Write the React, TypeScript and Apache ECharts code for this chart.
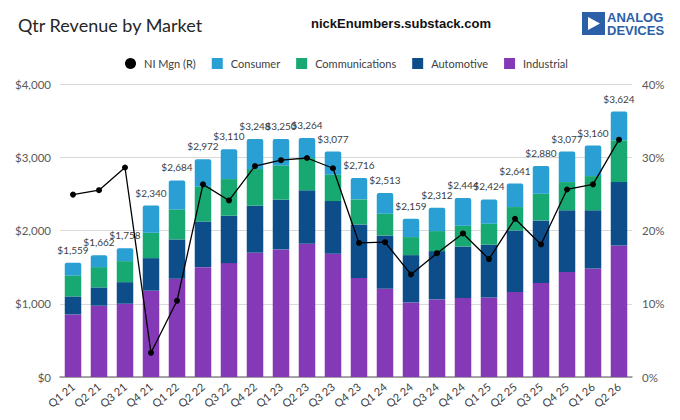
import React, { useEffect, useRef } from "react";
import * as echarts from "echarts";

const quarters = [
  "Q1 21", "Q2 21", "Q3 21", "Q4 21", "Q1 22", "Q2 22", "Q3 22", "Q4 22",
  "Q1 23", "Q2 23", "Q3 23", "Q4 23", "Q1 24", "Q2 24", "Q3 24", "Q4 24",
  "Q1 25", "Q2 25", "Q3 25", "Q4 25", "Q1 26", "Q2 26",
];

// revenue by market, $M
const industrial = [854, 973, 1000, 1178, 1341, 1500, 1555, 1697, 1742, 1820, 1683, 1350, 1205, 1018, 1059, 1077, 1086, 1159, 1282, 1432, 1482, 1796];
const automotive = [246, 250, 295, 445, 537, 624, 647, 642, 679, 728, 719, 733, 728, 646, 660, 706, 720, 842, 856, 843, 793, 865];
const communications = [287, 277, 287, 347, 410, 478, 500, 500, 468, 441, 360, 342, 297, 246, 273, 283, 287, 319, 365, 386, 468, 570];
const consumer = [172, 162, 176, 370, 396, 370, 408, 409, 361, 275, 315, 291, 283, 249, 320, 378, 331, 321, 377, 416, 417, 393];
const totals = [1559, 1662, 1758, 2340, 2684, 2972, 3110, 3248, 3250, 3264, 3077, 2716, 2513, 2159, 2312, 2444, 2424, 2641, 2880, 3077, 3160, 3624];

// net income margin, %
const niMargin = [24.9, 25.5, 28.6, 3.3, 10.4, 26.3, 24.1, 28.8, 29.6, 29.9, 28.5, 18.3, 18.4, 14.0, 16.9, 19.6, 16.1, 21.6, 18.1, 25.6, 26.3, 32.4];

const FONT = "Lato, 'Open Sans', sans-serif";
const money = (v: number) => "$" + v.toString().replace(/\B(?=(\d{3})+(?!\d))/g, ",");

const App: React.FC = () => {
  const chartRef = useRef<HTMLDivElement>(null);

  useEffect(() => {
    const chart = echarts.init(chartRef.current!, undefined, { renderer: "svg" });

    const barSeries = (name: string, data: number[], color: string, top = false): any => ({
      name,
      type: "bar",
      stack: "rev",
      barWidth: 16.5,
      yAxisIndex: 0,
      itemStyle: { color, borderRadius: top ? [2, 2, 0, 0] : 0 },
      label: top
        ? {
            show: true,
            position: "top",
            distance: 8,
            fontSize: 10,
            fontFamily: FONT,
            color: "#404040",
            formatter: (p: any) => money(totals[p.dataIndex]),
          }
        : { show: false },
      data,
    });

    chart.setOption({
      animation: false,
      backgroundColor: "#ffffff",
      textStyle: { fontFamily: FONT },
      grid: { left: 60, right: 48, top: 84, bottom: 43 },
      legend: {
        left: 120,
        top: 53,
        itemWidth: 11,
        itemHeight: 11,
        itemGap: 16,
        textStyle: { fontSize: 11, color: "#404040", fontFamily: FONT, padding: [0, 0, 0, 3] },
        data: [
          { name: "NI Mgn (R)", icon: "circle", itemStyle: { color: "#000000" } },
          { name: "Consumer", icon: "rect" },
          { name: "Communications", icon: "rect" },
          { name: "Automotive", icon: "rect" },
          { name: "Industrial", icon: "rect" },
        ],
      },
      graphic: [
        {
          type: "text",
          left: 18,
          top: 16,
          style: { text: "Qtr Revenue by Market", font: `18px ${FONT}`, fill: "#262626" },
        },
        {
          type: "text",
          x: 401,
          y: 23,
          style: {
            text: "nickEnumbers.substack.com",
            font: "bold 13px 'Liberation Sans', Arial, sans-serif",
            fill: "#111111",
            align: "center",
            verticalAlign: "middle",
          },
        },
        { type: "rect", shape: { x: 582, y: 12, width: 23, height: 23 }, style: { fill: "#2b5fa8" } },
        {
          type: "polygon",
          shape: { points: [[588, 17], [588, 30], [600, 23.5]] },
          style: { fill: "#ffffff" },
        },
        {
          type: "text",
          x: 607,
          y: 23.5,
          style: {
            text: "ANALOG\nDEVICES",
            font: "bold 13px 'Liberation Sans', Arial, sans-serif",
            lineHeight: 13,
            fill: "#2b5fa8",
            verticalAlign: "middle",
          },
        },
      ],
      xAxis: {
        type: "category",
        data: quarters,
        axisTick: { show: false },
        axisLine: { lineStyle: { color: "#8c8c8c", width: 1.5 } },
        axisLabel: { rotate: 40, fontSize: 11, color: "#404040", margin: 8, interval: 0 },
      },
      yAxis: [
        {
          type: "value",
          min: 0,
          max: 4000,
          interval: 1000,
          axisLabel: { formatter: (v: number) => money(v), fontSize: 11.5, color: "#595959", margin: 9 },
          splitLine: { lineStyle: { color: "#d9d9d9" } },
          axisLine: { show: false },
        },
        {
          type: "value",
          min: 0,
          max: 40,
          interval: 10,
          position: "right",
          axisLabel: { formatter: "{value}%", fontSize: 11.5, color: "#595959", margin: 10 },
          splitLine: { show: false },
          axisLine: { show: false },
        },
      ],
      series: [
        barSeries("Industrial", industrial, "#8439b7"),
        barSeries("Automotive", automotive, "#0d4e8a"),
        barSeries("Communications", communications, "#18a872"),
        barSeries("Consumer", consumer, "#2a9fd4", true),
        {
          name: "NI Mgn (R)",
          type: "line",
          yAxisIndex: 1,
          z: 5,
          symbol: "circle",
          symbolSize: 6,
          lineStyle: { color: "#000000", width: 1.3 },
          itemStyle: { color: "#000000" },
          data: niMargin,
        },
      ],
    });

    return () => chart.dispose();
  }, []);

  return (
    <div
      ref={chartRef}
      style={{ position: "fixed", left: 0, top: 0, width: "680px", height: "420px" }}
    />
  );
};

export default App;
